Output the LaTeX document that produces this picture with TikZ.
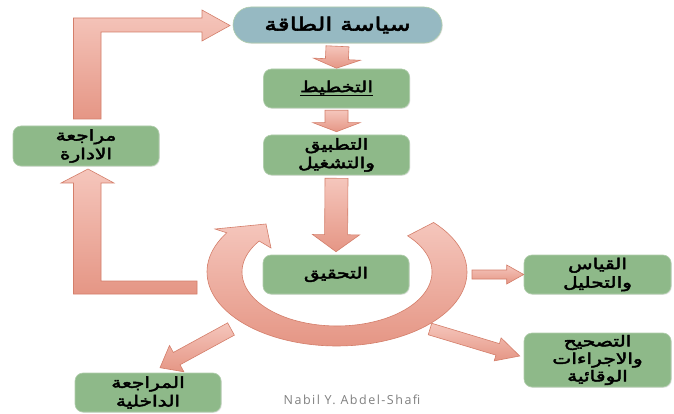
\documentclass[tikz,border=0pt]{standalone}
\usepackage{fontspec}
\usetikzlibrary{calc,shadows}
\TeXXeTstate=1
\newfontfamily\arab[Script=Arabic, FakeBold=3, FakeStretch=1.35]{DejaVu Sans}
\newfontfamily\credit[LetterSpace=12]{Open Sans}
\definecolor{boxgreen}{RGB}{142,185,137}
\definecolor{boxedge}{RGB}{176,206,172}
\definecolor{policyblue}{RGB}{150,185,194}
\definecolor{arrowtop}{RGB}{245,198,188}
\definecolor{arrowbot}{RGB}{229,150,133}
\definecolor{arrowline}{RGB}{212,126,106}
\definecolor{creditgray}{RGB}{128,128,128}

% block arrow: tail, tip, half shaft width, half head width, head length
\newcommand\blockarrow[5]{%
  \coordinate (ba-a) at (#1);
  \coordinate (ba-b) at (#2);
  \coordinate (ba-c) at ($(ba-b)!#5!(ba-a)$);
  \path[fatarrow] ($(ba-a)!#3!90:(ba-b)$) -- ($(ba-c)!#3!-90:(ba-a)$)
    -- ($(ba-c)!#4!-90:(ba-a)$) -- (ba-b) -- ($(ba-c)!#4!90:(ba-a)$)
    -- ($(ba-c)!#3!90:(ba-a)$) -- ($(ba-a)!#3!-90:(ba-b)$) -- cycle;
}

\begin{document}
\begin{tikzpicture}[x=1pt,y=-1pt,
  fatarrow/.style={draw=arrowline, line width=0.6pt, top color=arrowtop, bottom color=arrowbot},
  greenbox/.style={rectangle, rounded corners=8pt, fill=boxgreen, draw=boxedge, line width=0.6pt,
    minimum width=146pt, minimum height=39pt, align=center, inner sep=1pt,
    font=\arab\fontsize{15}{18.5}\selectfont,
    drop shadow={shadow xshift=0.8pt, shadow yshift=-0.8pt, opacity=0.2}},
  policybox/.style={greenbox, fill=policyblue, rounded corners=18pt, minimum width=209pt,
    minimum height=36pt, font=\arab\fontsize{18.5}{20}\selectfont}]
\fill[white] (0,0) rectangle (674,414);
\useasboundingbox (0,0) rectangle (674,414);

% boxes
\node[policybox] (policy) at (337.5,25) {\beginR سياسة الطاقة\endR};
\node[greenbox] (plan) at (336.5,88.5) {\underline{\beginR التخطيط\endR}};
\node[greenbox, minimum height=40pt] (apply) at (336.5,155) {\beginR التطبيق\endR\\\beginR والتشغيل\endR};
\node[greenbox] (check) at (336,274.5) {\beginR التحقيق\endR};
\node[greenbox, minimum height=40pt] (mgmt) at (86,146) {\beginR مراجعة\endR\\\beginR الادارة\endR};
\node[greenbox, minimum width=147pt] (measure) at (597.5,274.5) {\beginR القياس\endR\\\beginR والتحليل\endR};
\node[greenbox, minimum width=147pt, minimum height=54pt, font=\arab\fontsize{15}{17.5}\selectfont] (correct) at (597.5,360)
  {\beginR التصحيح\endR\\\beginR والاجراءات\endR\\\beginR الوقائية\endR};
\node[greenbox] (internal) at (148,392.5) {\beginR المراجعة\endR\\\beginR الداخلية\endR};

% free ends of the outgoing arrows, on the rim of the cycle
\coordinate (rim-e) at (472,274.5);
\coordinate (rim-se) at (430,329);
\coordinate (rim-sw) at (231,329);

% straight block arrows
\blockarrow{[yshift=-3pt]policy.south}{[yshift=0.5pt]plan.north}{11.5pt}{23.5pt}{9pt}
\blockarrow{[yshift=-2pt]plan.south}{[yshift=3pt]apply.north}{11.5pt}{23.5pt}{9pt}
\blockarrow{[yshift=-3pt]apply.south}{[yshift=3pt]check.north}{11.5pt}{23.5pt}{17pt}
\blockarrow{rim-e}{measure.west}{4.5pt}{9.5pt}{17pt}
\blockarrow{rim-se}{[xshift=-4pt,yshift=4pt]correct.west}{6pt}{12pt}{23pt}
\blockarrow{rim-sw}{[xshift=12pt,yshift=5pt]internal.north}{7pt}{15pt}{19pt}

% bent arrow from the cycle up to the management review
\path[fatarrow] (73.5,294) -- (73.5,183) -- (61,183) -- (88,169) -- (114,183) -- (101,183)
  -- (101,281) -- (197,281) -- (197,294) -- cycle;
% bent arrow from the management review back to the policy
\path[fatarrow] (73.5,119) -- (73.5,18) -- (202,18) -- (202,10) -- (230,25.5) -- (202,41)
  -- (202,32) -- (101,32) -- (101,119) -- cycle;

% the cycle around the checking step
\path[fatarrow] plot[domain=42:-212,samples=90] ({337+130*cos(\x)},{272-74*sin(\x)})
  -- (215,229) -- (266,224) -- (271,248)
  -- plot[domain=-215:42,samples=90] ({337+95*cos(\x)},{272-54*sin(\x)}) -- cycle;

% author credit
\node[font=\credit\fontsize{12.5}{14}\selectfont, text=creditgray] (credit) at (352,400) {Nabil Y. Abdel-Shafi};
\end{tikzpicture}
\end{document}
